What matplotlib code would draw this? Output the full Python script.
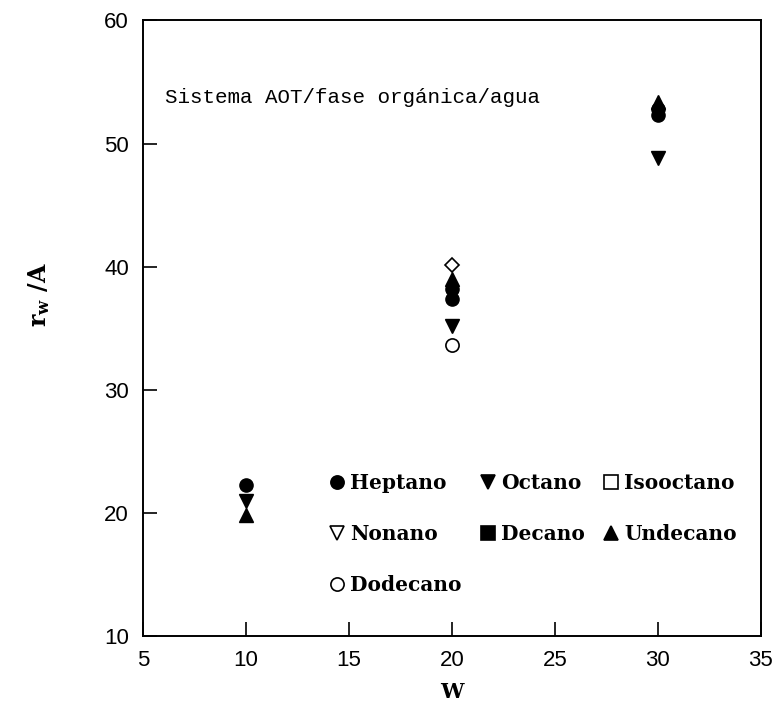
import matplotlib
matplotlib.use('Agg')
import matplotlib.pyplot as plt
from matplotlib.lines import Line2D

plt.rcParams['mathtext.fontset'] = 'dejavuserif'

# values
w_heptano = [10, 20, 30]
r_heptano = [22.3, 37.4, 52.3]
w_octano = [10, 20, 30]
r_octano = [21.0, 35.2, 48.8]
w_isooctano = [20]
r_isooctano = [40.1]
w_decano = [20, 30]
r_decano = [38.2, 52.8]
w_undecano = [10, 20, 30]
r_undecano = [19.8, 39.0, 53.4]
w_dodecano = [20]
r_dodecano = [33.6]

xticks = [5, 10, 15, 20, 25, 30, 35]
yticks = [10, 20, 30, 40, 50, 60]

fig = plt.figure(figsize=(7.77, 7.27), dpi=100)
ax = fig.add_axes([0.184, 0.125, 0.795, 0.847])

ms = 9.5
ax.plot(w_isooctano, r_isooctano, 'D', ms=7.5, mfc='white', mec='black', mew=1.2)
ax.plot(w_undecano, r_undecano, '^', ms=ms, color='black')
ax.plot(w_decano, r_decano, 'o', ms=ms, color='black')
ax.plot(w_heptano, r_heptano, 'o', ms=ms, color='black')
ax.plot(w_octano, r_octano, 'v', ms=ms, color='black')
ax.plot(w_dodecano, r_dodecano, 'o', ms=ms, mfc='white', mec='black', mew=1.2)

ax.set_xlim(5, 35)
ax.set_ylim(10, 60)
ax.set_xticks(xticks)
ax.set_yticks(yticks)
ax.tick_params(direction='in', length=10, width=1.2, labelsize=16, pad=10)
for lab in ax.get_xticklabels() + ax.get_yticklabels():
    lab.set_fontfamily('Liberation Sans')
for s in ax.spines.values():
    s.set_linewidth(1.4)

ax.set_xlabel('W', fontsize=15, fontweight='bold', family='DejaVu Serif')
ax.xaxis.set_label_coords(0.5, -0.075)
ax.set_ylabel(r'$\mathbf{r_w}$ /A', fontsize=17, fontweight='bold', family='DejaVu Serif')
ax.yaxis.set_label_coords(-0.148, 0.555)

ax.text(0.035, 0.865, 'Sistema AOT/fase orgánica/agua', transform=ax.transAxes,
        fontsize=15, family='Liberation Mono')

def h(marker, filled):
    return Line2D([], [], ls='none', marker=marker, ms=ms, mec='black',
                  mfc='black' if filled else 'white', mew=1.2)

handles = [h('o', True), h('v', False), h('o', False),
           h('v', True), h('s', True),
           h('s', False), h('^', True)]
labels = ['Heptano', 'Nonano', 'Dodecano', 'Octano', 'Decano', 'Isooctano', 'Undecano']
ax.legend(handles, labels, ncol=3, loc='upper left', bbox_to_anchor=(0.298, 0.265),
          borderaxespad=0, borderpad=0,
          frameon=False, handletextpad=0.15, columnspacing=0.8, labelspacing=1.55,
          handlelength=1.0, prop={'family': 'DejaVu Serif', 'weight': 'bold', 'size': 14.5})

fig.savefig('out.png', dpi=100)
